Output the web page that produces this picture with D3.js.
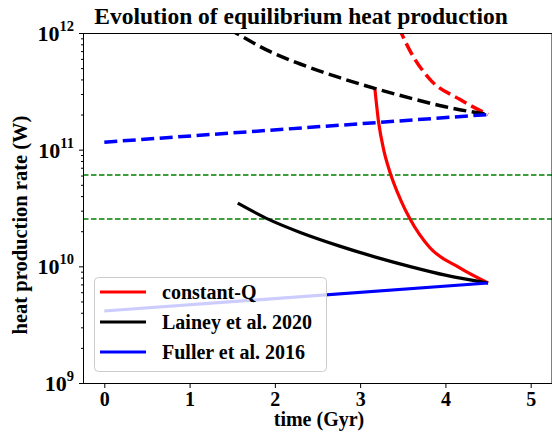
<!DOCTYPE html>
<html>
<head>
<meta charset="utf-8">
<script src="https://cdn.jsdelivr.net/npm/d3@7"></script>
<style>
  body { margin: 0; background: #fff; }
  svg text { font-family: "Liberation Serif", "Times New Roman", serif; font-weight: bold; }
</style>
</head>
<body>
<svg id="chart" width="552" height="435"></svg>
<script>
// values (time in Gyr, heat in W)
var xTicks = [0, 1, 2, 3, 4, 5]
var yMajor = [1e9, 1e10, 1e11, 1e12]
var yExp = ["9", "10", "11", "12"]

var greenLevels = [6.06e10, 2.54e10]

var redT = [3.171, 3.218, 3.277, 3.347, 3.476, 3.582, 3.816, 4.168, 4.5]
var redSolid = [3.44e11, 1.69e11, 9.9e10, 6.5e10, 3.7e10, 2.57e10, 1.45e10, 9.7e9, 7.2e9]
var redDashed = [9.56e12, 4.7e12, 2.75e12, 1.81e12, 1.03e12, 7.1e11, 4.03e11, 2.7e11, 2.0e11]

var blackT = [1.565, 1.94, 2.29, 2.76, 3.18, 3.6, 4.0, 4.5]
var blackSolid = [3.48e10, 2.5e10, 1.96e10, 1.49e10, 1.2e10, 9.9e9, 8.4e9, 7.2e9]
var blackDashT = [1.45, 1.565, 1.94, 2.29, 2.76, 3.18, 3.6, 4.0, 4.5]
var blackDashed = [1.1e12, 9.8e11, 6.95e11, 5.45e11, 4.14e11, 3.34e11, 2.75e11, 2.33e11, 2.0e11]

var blueT = [0, 4.5]
var blueSolid = [4.14e9, 7.2e9]
var blueDashed = [1.16e11, 2.0e11]

var legendNames = ["constant-Q", "Lainey et al. 2020", "Fuller et al. 2016"]
var legendColors = ["#ff0000", "#000000", "#0000ff"]

var dd = { left: 83, right: 552, top: 33, bottom: 383 }

var svg = d3.select("#chart")

var xScale = d3.scaleLinear().domain([-0.25, 5.25]).range([dd.left, dd.right])
var yScale = d3.scaleLog().domain([1e9, 1e12]).range([dd.bottom, dd.top])

svg.append("clipPath").attr("id", "plotclip")
  .append("rect")
  .attr("x", dd.left).attr("y", dd.top)
  .attr("width", dd.right - dd.left).attr("height", dd.bottom - dd.top)

var plot = svg.append("g").attr("clip-path", "url(#plotclip)")

function zip(ts, vs) { return ts.map(function(t, i) { return [t, vs[i]] }) }

var line = d3.line()
  .x(function(d) { return xScale(d[0]) })
  .y(function(d) { return yScale(d[1]) })
  .curve(d3.curveMonotoneX)

// green reference levels
greenLevels.forEach(function(v) {
  plot.append("path")
    .datum([[-0.25, v], [5.25, v]])
    .attr("d", line)
    .attr("fill", "none").attr("stroke", "#008000")
    .attr("stroke-width", 1.5).attr("stroke-dasharray", "5.5,2.5")
})

var series = [
  { d: zip(redT, redSolid), c: "#ff0000", dash: null },
  { d: zip(redT, redDashed), c: "#ff0000", dash: "13,5.5" },
  { d: zip(blackT, blackSolid), c: "#000000", dash: null },
  { d: zip(blackDashT, blackDashed), c: "#000000", dash: "13,5.5" },
  { d: zip(blueT, blueSolid), c: "#0000ff", dash: null },
  { d: zip(blueT, blueDashed), c: "#0000ff", dash: "13,5.5" }
]

series.forEach(function(s) {
  plot.append("path")
    .datum(s.d)
    .attr("d", line)
    .attr("fill", "none")
    .attr("stroke", s.c)
    .attr("stroke-width", s.dash ? 3.5 : 3.2)
    .attr("stroke-dasharray", s.dash)
})

// frame
svg.append("rect")
  .attr("x", dd.left + 0.5).attr("y", dd.top + 0.5)
  .attr("width", dd.right - dd.left - 0.5).attr("height", dd.bottom - dd.top)
  .attr("fill", "none").attr("stroke", "#000").attr("stroke-width", 1)

// x axis
var xAxis = svg.append("g")
  .attr("transform", "translate(0," + (dd.bottom + 0.5) + ")")
  .call(d3.axisBottom(xScale).tickValues(xTicks).tickSize(4.5).tickPadding(4).tickFormat(d3.format("d")))
xAxis.select(".domain").remove()
xAxis.selectAll("text").attr("font-size", 20).attr("fill", "#000")
  .style("font-family", "Liberation Serif").style("font-weight", "bold")

// y axis: minor ticks
var minors = []
for (var e = 9; e < 12; e++) for (var m = 2; m <= 9; m++) minors.push(m * Math.pow(10, e))
var yMinor = svg.append("g")
  .attr("transform", "translate(" + (dd.left + 0.5) + ",0)")
  .call(d3.axisLeft(yScale).tickValues(minors).tickSize(2.5).tickFormat(""))
yMinor.select(".domain").remove()

var yAxis = svg.append("g")
  .attr("transform", "translate(" + (dd.left + 0.5) + ",0)")
  .call(d3.axisLeft(yScale).tickValues(yMajor).tickSize(4.5).tickFormat(""))
yAxis.select(".domain").remove()

var ylab = svg.append("g").selectAll("text")
  .data(yMajor)
  .enter().append("text")
  .attr("x", 74)
  .attr("y", function(d) { return yScale(d) + 8 })
  .attr("text-anchor", "end")
  .attr("font-size", 22)
ylab.append("tspan").text("10")
ylab.append("tspan")
  .attr("dy", -10)
  .attr("font-size", 14.5)
  .text(function(d, i) { return yExp[i] })

// title and axis labels
svg.append("text")
  .attr("x", 301).attr("y", 24)
  .attr("text-anchor", "middle")
  .attr("font-size", 23.5)
  .text("Evolution of equilibrium heat production")

svg.append("text")
  .attr("x", 319).attr("y", 426)
  .attr("text-anchor", "middle")
  .attr("font-size", 20)
  .text("time (Gyr)")

svg.append("text")
  .attr("transform", "translate(27,225) rotate(-90)")
  .attr("text-anchor", "middle")
  .attr("font-size", 20.5)
  .text("heat production rate (W)")

// legend
var legend = svg.append("g")
legend.append("rect")
  .attr("x", 94.5).attr("y", 277.5)
  .attr("width", 232).attr("height", 94)
  .attr("rx", 4)
  .attr("fill", "#fff").attr("fill-opacity", 0.8)
  .attr("stroke", "#cccccc").attr("stroke-width", 1)

var items = legend.selectAll(".item")
  .data(legendNames)
  .enter().append("g")
  .attr("class", "item")
  .attr("transform", function(d, i) { return "translate(0," + (292 + i * 30) + ")" })

items.append("line")
  .attr("x1", 100).attr("x2", 146)
  .attr("stroke", function(d, i) { return legendColors[i] })
  .attr("stroke-width", 3.2)

items.append("text")
  .attr("x", 162).attr("y", 6.5)
  .attr("font-size", 20)
  .text(function(d) { return d })
</script>
</body>
</html>
